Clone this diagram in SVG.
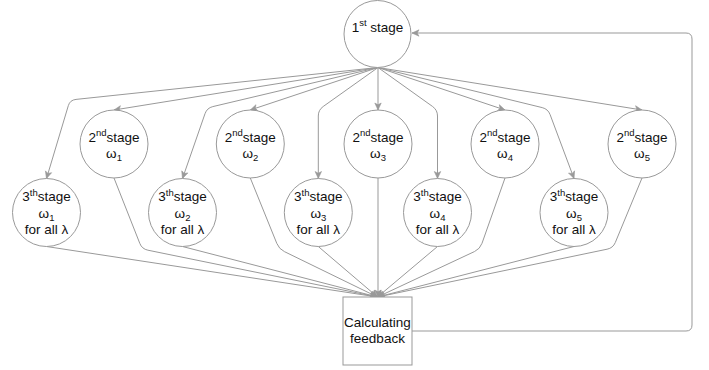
<svg xmlns="http://www.w3.org/2000/svg" width="709" height="370" viewBox="0 0 709 370">
<style>
.n{fill:#fff;stroke:#999;stroke-width:1}
.e{fill:none;stroke:#999;stroke-width:1;marker-end:url(#arr)}
.f{fill:none;stroke:#999;stroke-width:1}
text{font-family:"Liberation Sans",Arial,Helvetica,sans-serif;font-size:13.5px;fill:#111;text-anchor:middle}
.s{font-size:9.5px}
</style>
<defs>
<marker id="arr" markerUnits="userSpaceOnUse" markerWidth="10" markerHeight="10" refX="7" refY="4" orient="auto" overflow="visible">
<path d="M0,0.8 L7,4 L0,7.2 L1.8,4 Z" fill="#999" stroke="#999" stroke-width="0.6"/>
</marker>
</defs>
<rect width="709" height="370" fill="#fff"/>
<g id="connectors">
<path class="e" d="M378,67.5 L114,110"/>
<path class="e" d="M378,67.5 L76,99.4 Q70,100 68.3,105.7 L46.5,178.5"/>
<path class="e" d="M378,67.5 L250.3,110"/>
<path class="e" d="M378,67.5 L212.8,106.6 Q207,108 205,113.7 L182.5,178.5"/>
<path class="e" d="M378,67.5 L378,110"/>
<path class="e" d="M378,67.5 L323.2,106.5 Q318.3,110 318.3,116 L318.3,178.5"/>
<path class="e" d="M378,67.5 L432.6,106.5 Q437.5,110 437.5,116 L437.5,178.5"/>
<path class="e" d="M378,67.5 L505,110"/>
<path class="e" d="M378,67.5 L542.2,107.6 Q548,109 550.1,114.6 L574,178.5"/>
<path class="e" d="M378,67.5 L642,110"/>
<path class="e" d="M378,178 L378,297"/>
<path class="e" d="M318.3,246.5 L377.5,297"/>
<path class="e" d="M437.5,246.5 L377.5,297"/>
<path class="e" d="M250.3,178 L276.8,243.4 Q279,249 284.4,251.6 L377.5,297"/>
<path class="e" d="M505,178 L482,243.3 Q480,249 474.6,251.5 L377.5,297"/>
<path class="e" d="M114,178 L139.8,243.4 Q142,249 147.9,250.2 L377.5,297"/>
<path class="e" d="M642,178 L615.3,242.5 Q613,248 607.1,249.2 L377.5,297"/>
<path class="e" d="M46.5,246.5 L377.5,297"/>
<path class="e" d="M182.5,246.5 L377.5,297"/>
<path class="e" d="M574,246.5 L377.5,297"/>
<path class="e" d="M412,331 L686,331 Q692,331 692,325 L692,39 Q692,33 686,33 L412,33"/>
</g>
<g id="stage1">
<circle class="n" cx="377.5" cy="34" r="33.5"/>
<text x="377.5" y="31.7">1<tspan class="s" dy="-5.5">st</tspan><tspan dy="5.5"> stage</tspan></text>
</g>
<g id="stage2-w1">
<circle class="n" cx="114" cy="144" r="34"/>
<text x="114" y="141.7">2<tspan class="s" dy="-5.5">nd</tspan><tspan dy="5.5">stage</tspan></text>
<text x="114" y="157.7">ω<tspan class="s" dy="3">1</tspan></text>
</g>
<g id="stage2-w2">
<circle class="n" cx="250.3" cy="144" r="34"/>
<text x="250.3" y="141.7">2<tspan class="s" dy="-5.5">nd</tspan><tspan dy="5.5">stage</tspan></text>
<text x="250.3" y="157.7">ω<tspan class="s" dy="3">2</tspan></text>
</g>
<g id="stage2-w3">
<circle class="n" cx="378" cy="144" r="34"/>
<text x="378" y="141.7">2<tspan class="s" dy="-5.5">nd</tspan><tspan dy="5.5">stage</tspan></text>
<text x="378" y="157.7">ω<tspan class="s" dy="3">3</tspan></text>
</g>
<g id="stage2-w4">
<circle class="n" cx="505" cy="144" r="34"/>
<text x="505" y="141.7">2<tspan class="s" dy="-5.5">nd</tspan><tspan dy="5.5">stage</tspan></text>
<text x="505" y="157.7">ω<tspan class="s" dy="3">4</tspan></text>
</g>
<g id="stage2-w5">
<circle class="n" cx="642" cy="144" r="34"/>
<text x="642" y="141.7">2<tspan class="s" dy="-5.5">nd</tspan><tspan dy="5.5">stage</tspan></text>
<text x="642" y="157.7">ω<tspan class="s" dy="3">5</tspan></text>
</g>
<g id="stage3-w1">
<circle class="n" cx="46.5" cy="212.5" r="34"/>
<text x="46.5" y="201">3<tspan class="s" dy="-5.5">th</tspan><tspan dy="5.5">stage</tspan></text>
<text x="46.5" y="217.5">ω<tspan class="s" dy="3">1</tspan></text>
<text x="46.5" y="234.3">for all λ</text>
</g>
<g id="stage3-w2">
<circle class="n" cx="182.5" cy="212.5" r="34"/>
<text x="182.5" y="201">3<tspan class="s" dy="-5.5">th</tspan><tspan dy="5.5">stage</tspan></text>
<text x="182.5" y="217.5">ω<tspan class="s" dy="3">2</tspan></text>
<text x="182.5" y="234.3">for all λ</text>
</g>
<g id="stage3-w3">
<circle class="n" cx="318.3" cy="212.5" r="34"/>
<text x="318.3" y="201">3<tspan class="s" dy="-5.5">th</tspan><tspan dy="5.5">stage</tspan></text>
<text x="318.3" y="217.5">ω<tspan class="s" dy="3">3</tspan></text>
<text x="318.3" y="234.3">for all λ</text>
</g>
<g id="stage3-w4">
<circle class="n" cx="437.5" cy="212.5" r="34"/>
<text x="437.5" y="201">3<tspan class="s" dy="-5.5">th</tspan><tspan dy="5.5">stage</tspan></text>
<text x="437.5" y="217.5">ω<tspan class="s" dy="3">4</tspan></text>
<text x="437.5" y="234.3">for all λ</text>
</g>
<g id="stage3-w5">
<circle class="n" cx="574" cy="212.5" r="34"/>
<text x="574" y="201">3<tspan class="s" dy="-5.5">th</tspan><tspan dy="5.5">stage</tspan></text>
<text x="574" y="217.5">ω<tspan class="s" dy="3">5</tspan></text>
<text x="574" y="234.3">for all λ</text>
</g>
<g id="feedback">
<rect class="n" x="343" y="297" width="69" height="68"/>
<text x="377.5" y="327.3">Calculating</text>
<text x="377.5" y="342.7">feedback</text>
</g>
</svg>
